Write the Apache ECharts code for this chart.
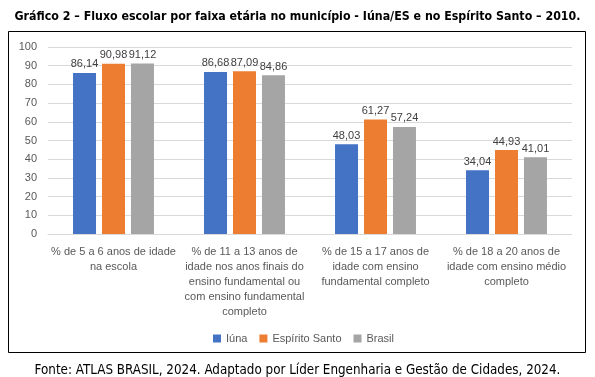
<!DOCTYPE html>
<html>
<head>
<meta charset="utf-8">
<script src="https://cdn.jsdelivr.net/npm/echarts@6/dist/echarts.min.js"></script>
<style>
  html, body { margin: 0; padding: 0; background: #fff; }
  #chart { width: 595px; height: 377px; }
</style>
</head>
<body>
<div id="chart"></div>
<script>
var categories = [
  "% de 5 a 6 anos de idade\nna escola",
  "% de 11 a 13 anos de\nidade nos anos finais do\nensino fundamental ou\ncom ensino fundamental\ncompleto",
  "% de 15 a 17 anos de\nidade com ensino\nfundamental completo",
  "% de 18 a 20 anos de\nidade com ensino médio\ncompleto"
];
var iuna = [86.14, 86.68, 48.03, 34.04];
var espiritoSanto = [90.98, 87.09, 61.27, 44.93];
var brasil = [91.12, 84.86, 57.24, 41.01];

var chart = echarts.init(document.getElementById("chart"));
var txt = "#595959";
var labelFont = "Liberation Sans";
var narrowFont = "'Liberation Sans Narrow', 'DejaVu Sans Condensed', 'Arial Narrow', sans-serif";

function barSeries(name, data, color) {
  return {
    name: name,
    type: "bar",
    data: data,
    barWidth: 23,
    barGap: "26%",
    itemStyle: { color: color },
    label: {
      show: true,
      position: "top",
      distance: 3,
      color: "#404040",
      fontFamily: labelFont,
      fontSize: 11,
      formatter: function (p) { return p.value.toFixed(2).replace(".", ","); }
    }
  };
}

var option = {
  animation: false,
  title: [
    {
      text: "Gráfico 2 – Fluxo escolar por faixa etária no município - Iúna/ES e no Espírito Santo – 2010.",
      left: "center",
      top: 6,
      textStyle: { fontFamily: narrowFont, fontWeight: "bold", fontSize: 12.3, color: "#000" }
    },
    {
      text: "Fonte: ATLAS BRASIL, 2024. Adaptado por Líder Engenharia e Gestão de Cidades, 2024.",
      left: "center",
      top: 359,
      textStyle: { fontFamily: narrowFont, fontWeight: "normal", fontSize: 13.3, color: "#000" }
    }
  ],
  graphic: [
    {
      type: "rect",
      shape: { x: 8.5, y: 31.5, width: 577, height: 321 },
      style: { fill: "none", stroke: "#000", lineWidth: 1 },
      silent: true
    }
  ],
  legend: {
    top: 328,
    left: 208,
    itemWidth: 8,
    itemHeight: 8,
    itemGap: 12,
    icon: "rect",
    textStyle: { color: txt, fontFamily: labelFont, fontSize: 11 },
    data: ["Iúna", "Espírito Santo", "Brasil"]
  },
  grid: { left: 48, right: 23, top: 47, bottom: 143, containLabel: false },
  xAxis: {
    type: "category",
    data: categories,
    axisLine: { lineStyle: { color: "#D9D9D9" } },
    axisTick: { show: false },
    axisLabel: {
      interval: 0,
      color: txt,
      fontFamily: labelFont,
      fontSize: 11,
      lineHeight: 15,
      margin: 10
    }
  },
  yAxis: {
    type: "value",
    min: 0,
    max: 100,
    interval: 10,
    axisLine: { show: false },
    axisTick: { show: false },
    splitLine: { lineStyle: { color: "#D9D9D9" } },
    axisLabel: { color: txt, fontFamily: labelFont, fontSize: 11, margin: 11 }
  },
  series: [
    barSeries("Iúna", iuna, "#4472C4"),
    barSeries("Espírito Santo", espiritoSanto, "#ED7D31"),
    barSeries("Brasil", brasil, "#A5A5A5")
  ]
};
chart.setOption(option);
</script>
</body>
</html>
